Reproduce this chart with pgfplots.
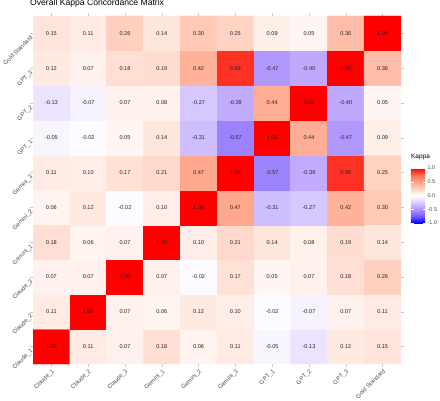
\documentclass[border=0pt]{standalone}
\usepackage{fontspec}
\setmainfont{Liberation Sans}
\usepackage{pgfplots}
\pgfplotsset{compat=1.18}
\usepackage{pgfplotstable}

\pgfplotstableread{
x y z
0 0 1.00
1 0 0.11
2 0 0.07
3 0 0.18
4 0 0.06
5 0 0.11
6 0 -0.05
7 0 -0.13
8 0 0.12
9 0 0.15
0 1 0.11
1 1 1.00
2 1 0.07
3 1 0.06
4 1 0.12
5 1 0.10
6 1 -0.02
7 1 -0.07
8 1 0.07
9 1 0.11
0 2 0.07
1 2 0.07
2 2 1.00
3 2 0.07
4 2 -0.02
5 2 0.17
6 2 0.05
7 2 0.07
8 2 0.18
9 2 0.26
0 3 0.18
1 3 0.06
2 3 0.07
3 3 1.00
4 3 0.10
5 3 0.21
6 3 0.14
7 3 0.08
8 3 0.19
9 3 0.14
0 4 0.06
1 4 0.12
2 4 -0.02
3 4 0.10
4 4 1.00
5 4 0.47
6 4 -0.31
7 4 -0.27
8 4 0.42
9 4 0.30
0 5 0.11
1 5 0.10
2 5 0.17
3 5 0.21
4 5 0.47
5 5 1.00
6 5 -0.57
7 5 -0.39
8 5 0.89
9 5 0.25
0 6 -0.05
1 6 -0.02
2 6 0.05
3 6 0.14
4 6 -0.31
5 6 -0.57
6 6 1.00
7 6 0.44
8 6 -0.47
9 6 0.09
0 7 -0.13
1 7 -0.07
2 7 0.07
3 7 0.08
4 7 -0.27
5 7 -0.39
6 7 0.44
7 7 1.00
8 7 -0.40
9 7 0.05
0 8 0.12
1 8 0.07
2 8 0.18
3 8 0.19
4 8 0.42
5 8 0.89
6 8 -0.47
7 8 -0.40
8 8 1.00
9 8 0.36
0 9 0.15
1 9 0.11
2 9 0.26
3 9 0.14
4 9 0.30
5 9 0.25
6 9 0.09
7 9 0.05
8 9 0.36
9 9 1.00
}\kappatable

\pgfplotsset{colormap={kappa}{
 rgb255=(0,0,255) rgb255=(120,92,255) rgb255=(172,145,252) rgb255=(218,204,255)
 rgb255=(255,255,255)
 rgb255=(255,210,194) rgb255=(255,162,135) rgb255=(255,110,80) rgb255=(255,0,0)}}

\definecolor{ticklab}{RGB}{77,77,77}
\definecolor{gridc}{RGB}{200,200,200}

\begin{document}
\begin{tikzpicture}
\path[use as bounding box] (0,0) rectangle (440pt,400pt);
\begin{axis}[
  at={(33pt,36pt)}, anchor=south west,
  scale only axis, width=368pt, height=348pt,
  xmin=-0.5, xmax=9.5, ymin=-0.5, ymax=9.5,
  enlargelimits=false,
  axis line style={draw=none},
  colormap name=kappa,
  point meta min=-1, point meta max=1,
  xtick={0,...,9}, ytick={0,...,9},
  xticklabels={Claude\_1,Claude\_2,Claude\_3,Gemini\_1,Gemini\_2,Gemini\_3,GPT\_1,GPT\_2,GPT\_3,Gold Standard},
  yticklabels={Claude\_1,Claude\_2,Claude\_3,Gemini\_1,Gemini\_2,Gemini\_3,GPT\_1,GPT\_2,GPT\_3,Gold Standard},
  xtick pos=both, ytick pos=both,
  xticklabel pos=lower, yticklabel pos=left,
  tick align=outside, major tick length=3pt,
  tick style={gridc, line width=0.5pt},
  xticklabel style={rotate=45, anchor=north east, font=\fontsize{6}{7}\selectfont, text=ticklab, inner sep=1pt},
  yticklabel style={rotate=45, anchor=north east, font=\fontsize{6}{7}\selectfont, text=ticklab, inner sep=1pt},
  title={Overall Kappa Concordance Matrix},
  title style={at={(0,1)}, anchor=base west, yshift=4pt, xshift=-3pt, font=\fontsize{8.6}{10}\selectfont, inner sep=0pt},
  colorbar,
  colorbar style={
    at={(1.027,0.484)}, anchor=west,
    scale only axis, width=15pt, height=55pt,
    axis line style={draw=none},
    ytick={-1,-0.5,0,0.5,1},
    tick align=inside, major tick length=3pt,
    ytick style={draw=white, line width=0.4pt},
    yticklabel style={font=\fontsize{5.5}{6}\selectfont, text=ticklab, inner sep=1.5pt,
      /pgf/number format/.cd, fixed, fixed zerofill, precision=1, assume math mode=true},
    title={Kappa},
    title style={at={(0,1)}, anchor=south west, yshift=1pt, xshift=-1pt, font=\fontsize{6.5}{7}\selectfont, inner sep=1pt},
  },
]
\addplot[matrix plot*, mesh/cols=10, point meta=explicit] table[x=x, y=y, meta=z] {\kappatable};
\addplot[only marks, mark=none, point meta=explicit,
  nodes near coords={\pgfmathprintnumber[fixed,fixed zerofill,precision=2,assume math mode=true]{\pgfplotspointmeta}},
  nodes near coords align={center},
  every node near coord/.append style={font=\fontsize{5.6}{6}\selectfont, text=black!85, inner sep=0pt}]
  table[x=x, y=y, meta=z] {\kappatable};
\end{axis}
\end{tikzpicture}
\end{document}
